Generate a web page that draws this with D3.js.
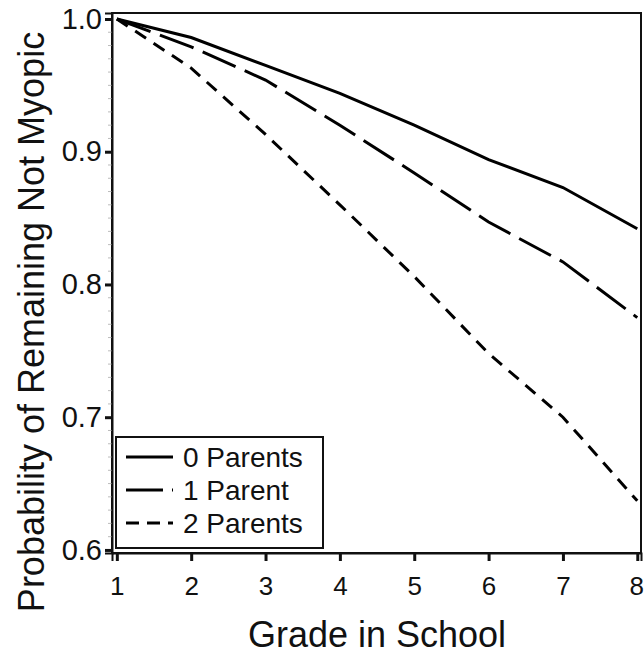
<!DOCTYPE html>
<html>
<head>
<meta charset="utf-8">
<script src="https://cdn.jsdelivr.net/npm/d3@7"></script>
<style>
  body { margin: 0; background: #fff; }
  svg { font-family: "Liberation Sans", Arial, sans-serif; }
</style>
</head>
<body>
<svg width="644" height="654"></svg>
<script>
const grades = [1, 2, 3, 4, 5, 6, 7, 8];
const zeroParents = [1.0, 0.986, 0.965, 0.944, 0.920, 0.894, 0.873, 0.842];
const oneParent = [1.0, 0.979, 0.954, 0.920, 0.884, 0.847, 0.817, 0.775];
const twoParents = [1.0, 0.963, 0.913, 0.860, 0.806, 0.748, 0.700, 0.637];
const seriesNames = ['0 Parents', '1 Parent', '2 Parents'];
const yTicks = [0.6, 0.7, 0.8, 0.9, 1.0];

const dashes = ['none', '36,10', '13,9'];
const legendDashes = ['none', '37,9', '13,8'];

const svg = d3.select('svg');
const fontFam = '"Liberation Sans", Arial, sans-serif';

const plotLeft = 112, plotRight = 641, plotTop = 13, plotBottom = 553;

const x = d3.scaleLinear().domain([0.935, 8.05]).range([plotLeft, plotRight]);
const y = d3.scaleLinear().domain([0.5977, 1.0045]).range([plotBottom, plotTop]);

// frame
svg.append('rect')
    .attr('x', plotLeft).attr('y', plotTop)
    .attr('width', plotRight - plotLeft).attr('height', plotBottom - plotTop)
    .attr('fill', 'none').attr('stroke', '#111').attr('stroke-width', 2);

// minor y ticks
const minor = d3.range(60, 101).map(v => v / 100).filter(v => Math.round(v * 100) % 10 !== 0);
svg.append('g').selectAll('line')
    .data(minor)
    .enter().append('line')
    .attr('x1', plotLeft - 4).attr('x2', plotLeft)
    .attr('y1', d => y(d)).attr('y2', d => y(d))
    .attr('stroke', '#bbb').attr('stroke-width', 1);

// y axis
const yAxis = svg.append('g')
    .attr('transform', `translate(${plotLeft},0)`)
    .call(d3.axisLeft(y).tickValues(yTicks).tickFormat(d3.format('.1f')).tickSize(7).tickPadding(3));
yAxis.select('.domain').attr('stroke', '#111').attr('stroke-width', 2);
yAxis.selectAll('.tick line').attr('stroke', '#111').attr('stroke-width', 3);
yAxis.selectAll('.tick text').attr('font-size', 29).attr('fill', '#111')
    .attr('font-family', fontFam);

// x axis
const xAxis = svg.append('g')
    .attr('transform', `translate(0,${plotBottom})`)
    .call(d3.axisBottom(x).tickValues(grades).tickFormat(d3.format('d')).tickSize(8).tickPadding(16));
xAxis.select('.domain').attr('stroke', '#111').attr('stroke-width', 2);
xAxis.selectAll('.tick line').attr('stroke', '#111').attr('stroke-width', 3);
xAxis.selectAll('.tick text').attr('font-size', 26).attr('fill', '#111')
    .attr('font-family', fontFam)
    .attr('dx', d => d === 8 ? -1 : 0);

// axis titles
svg.append('text')
    .attr('x', 377).attr('y', 647)
    .attr('text-anchor', 'middle')
    .attr('font-size', 36).attr('fill', '#111')
    .text('Grade in School');

svg.append('text')
    .attr('transform', 'translate(44,322) rotate(-90)')
    .attr('text-anchor', 'middle')
    .attr('font-size', 36).attr('fill', '#111')
    .text('Probability of Remaining Not Myopic');

// lines
const line = d3.line()
    .x((d, i) => x(grades[i]))
    .y(d => y(d));

const allSeries = [zeroParents, oneParent, twoParents];
svg.append('g').selectAll('path')
    .data(allSeries)
    .enter().append('path')
    .attr('d', line)
    .attr('fill', 'none')
    .attr('stroke', '#000')
    .attr('stroke-width', 3)
    .attr('stroke-dasharray', (d, i) => dashes[i]);

// legend
const legend = svg.append('g').attr('transform', 'translate(116,437)');
legend.append('rect')
    .attr('width', 207).attr('height', 111)
    .attr('fill', '#fff').attr('stroke', '#111').attr('stroke-width', 2);

const rows = legend.selectAll('.row')
    .data(seriesNames)
    .enter().append('g')
    .attr('transform', (d, i) => `translate(0,${20 + i * 33})`);

rows.append('line')
    .attr('x1', 10).attr('x2', 57)
    .attr('stroke', '#000').attr('stroke-width', 3)
    .attr('stroke-dasharray', (d, i) => legendDashes[i]);

rows.append('text')
    .attr('x', 67).attr('y', 10)
    .attr('font-size', 28).attr('fill', '#111')
    .text(d => d);
</script>
</body>
</html>
